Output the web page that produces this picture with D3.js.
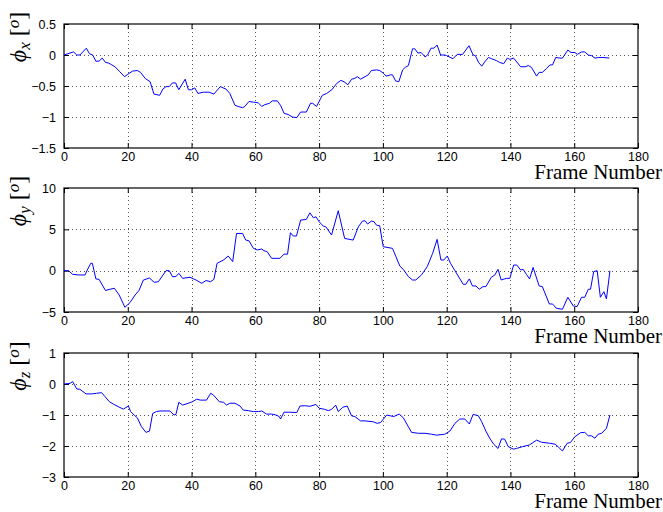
<!DOCTYPE html>
<html>
<head>
<meta charset="utf-8">
<script src="https://cdn.jsdelivr.net/npm/d3@7"></script>
<style>
  body { margin: 0; background: #fff; }
  .tick text { font-family: "Liberation Sans", Arial, sans-serif; font-size: 12.5px; }
</style>
</head>
<body>
<div class="angle_chart"></div>
<script>
// frame axis
const frameTicks = [0, 20, 40, 60, 80, 100, 120, 140, 160, 180];

// phi_x
const phiXTicks = [0.5, 0, -0.5, -1, -1.5];
const phiXFrames = [0, 3, 4, 5, 7, 8, 9, 10, 11, 12, 13, 14, 15, 16, 17.5, 19, 20, 21.5, 23, 24, 25.5, 27, 28.2, 30, 31, 32, 33, 34, 35, 36, 38, 39, 40, 41, 42, 43.7, 45.5, 47, 49, 50.8, 52, 53.6, 54.6, 56, 56.7, 58, 59.4, 60.9, 62, 63, 64.4, 65.3, 66.9, 68, 69, 70.3, 71.6, 73, 74.2, 76, 77.3, 78, 79.2, 81, 82.4, 84, 85.5, 86.8, 87.8, 89, 90.2, 91, 92, 93, 94.4, 95.4, 96.4, 98, 99, 100.3, 101, 102.4, 103, 104, 105, 106.2, 107, 108, 109.3, 110, 111, 112, 113.2, 114, 115.1, 116, 117, 118.1, 119.4, 120, 122, 123.3, 125, 127, 128.3, 129, 130, 131, 132.1, 133.1, 134.1, 135.6, 136.6, 137.9, 139, 139.8, 141, 143.2, 144.6, 145.6, 146.6, 148.2, 149, 150, 151.3, 152.4, 153.2, 154.2, 155.5, 156.3, 158, 159, 160.2, 161, 162.3, 163.3, 164.4, 165.4, 166.5, 167.7, 169, 171];
const phiXValues = [0, 0.05, 0, 0, 0.11, 0.02, 0, -0.1, -0.1, -0.05, -0.12, -0.13, -0.16, -0.19, -0.27, -0.35, -0.31, -0.26, -0.25, -0.28, -0.38, -0.43, -0.63, -0.65, -0.55, -0.51, -0.51, -0.45, -0.45, -0.56, -0.39, -0.56, -0.56, -0.53, -0.62, -0.6, -0.6, -0.63, -0.51, -0.55, -0.62, -0.81, -0.83, -0.85, -0.83, -0.75, -0.76, -0.77, -0.83, -0.8, -0.78, -0.74, -0.74, -0.82, -0.94, -0.96, -1.0, -1.01, -0.92, -0.92, -0.78, -0.78, -0.83, -0.65, -0.62, -0.56, -0.46, -0.41, -0.43, -0.48, -0.39, -0.38, -0.35, -0.39, -0.35, -0.32, -0.25, -0.24, -0.25, -0.3, -0.34, -0.32, -0.32, -0.42, -0.43, -0.24, -0.2, -0.17, 0.1, 0.1, 0.03, 0.04, -0.03, 0, 0.11, 0.11, 0.16, 0, 0, -0.01, -0.06, 0.01, 0.01, 0.15, 0, -0.01, -0.12, -0.18, -0.1, -0.04, -0.06, -0.09, -0.12, -0.14, -0.05, -0.07, -0.05, -0.19, -0.19, -0.17, -0.2, -0.34, -0.28, -0.28, -0.22, -0.16, -0.16, -0.04, -0.05, -0.05, 0.08, 0.04, 0.04, 0.01, 0.05, 0.05, 0, -0.01, -0.05, -0.04, -0.04, -0.05];

// phi_y
const phiYTicks = [10, 5, 0, -5];
const phiYFrames = [0, 1.4, 2.7, 4.5, 6.6, 7.3, 8.4, 8.9, 10, 11, 13, 14.4, 15.8, 17.3, 19.1, 20.7, 22.3, 23.5, 24.9, 26.8, 28.3, 29.6, 32, 33, 34, 35.1, 36, 37.2, 39.5, 41.4, 43.2, 44.5, 46, 47, 48, 50, 51.5, 52.9, 54.1, 56, 57, 58, 59.4, 60.6, 62, 62.7, 63.7, 65.1, 67.7, 69, 70.1, 71, 71.9, 72.9, 74.2, 76, 77.1, 78.2, 79, 80, 81.3, 82.1, 83.9, 86, 88, 90.7, 92.3, 93.6, 94.4, 95.2, 96.4, 97.2, 98, 99, 100.1, 103, 104.1, 105.3, 106.4, 108, 109.3, 110.3, 112.1, 113.9, 115.6, 117, 118.2, 119.1, 120.2, 121.2, 122.6, 123.6, 125.2, 126, 127.1, 128.1, 129.2, 130.2, 131.4, 132.3, 134, 135.1, 136.1, 137.1, 138.7, 139.8, 141, 142, 143.2, 144, 145, 146, 147.1, 149, 150, 152.2, 153.2, 154.4, 156.3, 158, 159.7, 160.9, 162.3, 163.3, 164.4, 165.1, 166.1, 167.2, 168.2, 169.3, 170.1, 171.2];
const phiYValues = [0, 0, -0.44, -0.52, -0.52, 0.08, 0.89, 0.89, -1.0, -1.05, -2.4, -2.25, -2.13, -2.94, -4.43, -3.86, -2.94, -2.4, -1.13, -0.89, -1.41, -1.33, 0, 0, -0.72, -0.72, -0.32, -0.93, -0.8, -1.13, -1.53, -1.2, -1.33, -1.05, 0.89, 1.29, 1.77, 1.09, 4.5, 4.5, 3.7, 3.62, 2.7, 2.5, 2.62, 2.42, 2.3, 1.49, 1.49, 2.0, 2.0, 4.59, 4.19, 4.19, 6.12, 6.2, 7.0, 6.4, 6.52, 5.92, 5.39, 5.31, 4.31, 7.25, 3.9, 3.7, 5.3, 6.0, 6.04, 5.64, 6.0, 5.92, 5.5, 5.43, 2.9, 2.7, 1.69, 0.56, 0.16, -0.72, -1.13, -1.13, -0.52, 0.48, 2.09, 3.78, 1.29, 1.29, 1.77, 0.89, 0, -0.64, -1.65, -1.65, -1.0, -1.85, -1.85, -2.25, -1.93, -1.93, -0.8, -0.52, 0.16, -1.13, -0.93, -0.93, 0.68, 0.68, 0.08, 0.16, -0.44, -1.0, 0.4, -1.85, -1.93, -4.03, -4.03, -4.55, -4.67, -3.22, -4.27, -4.35, -3.22, -3.22, -2.25, -2.25, -0.12, 0, -3.22, -2.54, -3.42, 0];

// phi_z
const phiZTicks = [1, 0, -1, -2, -3];
const phiZFrames = [0, 1.9, 2.7, 4, 5, 6.9, 8.7, 10.2, 11.8, 12.9, 14.2, 15.5, 17, 18.6, 20.2, 20.9, 22, 23, 24.3, 25.7, 26.8, 27.8, 29, 30.1, 32, 33.2, 34.5, 35.1, 36, 37.2, 39, 40.3, 41.6, 42.8, 44.7, 46, 46.8, 48.7, 50, 51, 52, 53.6, 55.2, 56.2, 57.8, 59.4, 61, 62, 63.5, 65.1, 66.5, 67.5, 67.9, 69, 70.9, 73, 74, 75.5, 77.1, 79, 80, 81.8, 82.9, 83.9, 85.2, 86, 87.4, 88.8, 90.2, 91.2, 93, 94.4, 97, 98.2, 99.3, 101.2, 103.4, 105.1, 106.4, 108, 109, 111.1, 113.2, 115.3, 116.8, 119.4, 121, 122.6, 124.1, 125.7, 127.1, 128.3, 129.9, 131, 132.3, 133.5, 134.8, 136.1, 137.2, 138.2, 139.3, 140.9, 141.9, 143.8, 145.9, 148.2, 149.8, 152.2, 154, 155.2, 156.3, 157.8, 158.8, 160.2, 162, 163.3, 164.4, 165.4, 166.5, 167.5, 168.6, 170.1, 171.2];
const phiZValues = [0, 0.02, 0.08, -0.16, -0.17, -0.32, -0.32, -0.3, -0.28, -0.41, -0.57, -0.65, -0.73, -0.81, -0.71, -0.89, -1.0, -1.09, -1.38, -1.56, -1.52, -0.95, -0.89, -0.87, -0.87, -0.87, -1.0, -0.98, -0.59, -0.68, -0.62, -0.57, -0.49, -0.52, -0.52, -0.3, -0.35, -0.57, -0.59, -0.68, -0.62, -0.62, -0.71, -0.84, -0.86, -0.89, -0.89, -0.87, -0.97, -0.97, -1.0, -1.05, -1.13, -0.91, -0.91, -0.92, -0.71, -0.7, -0.72, -0.66, -0.78, -0.82, -0.86, -0.82, -0.68, -0.89, -0.75, -0.71, -1.03, -1.05, -1.19, -1.19, -1.22, -1.27, -1.24, -1.0, -1.05, -0.97, -1.09, -1.38, -1.56, -1.59, -1.59, -1.62, -1.65, -1.62, -1.52, -1.27, -1.13, -1.13, -1.29, -0.98, -1.02, -1.22, -1.52, -1.75, -1.95, -2.08, -1.77, -1.78, -2.02, -2.1, -2.08, -2.02, -1.97, -1.81, -1.88, -1.91, -1.94, -2.05, -2.16, -1.91, -1.89, -1.7, -1.57, -1.56, -1.67, -1.67, -1.75, -1.62, -1.59, -1.43, -1.0];

const width = 663, height = 512;
const plotLeft = 64, plotRight = 638, plotH = 124;

const svg = d3.select(".angle_chart")
  .append("svg")
  .attr("width", width)
  .attr("height", height);

const x = d3.scaleLinear().domain([0, 180]).range([plotLeft, plotRight]);

const fmt = (d) => String(d).replace("-", "\u2212");

function drawPanel(top, ticks, frames, values, sub) {
  const y = d3.scaleLinear()
    .domain([d3.min(ticks), d3.max(ticks)])
    .range([top + plotH, top]);

  const g = svg.append("g");

  // dotted grid
  g.selectAll(".vgrid")
    .data(frameTicks.slice(1, -1))
    .join("line")
    .attr("x1", (d) => Math.round(x(d)) + 0.5).attr("x2", (d) => Math.round(x(d)) + 0.5)
    .attr("y1", top).attr("y2", top + plotH)
    .attr("stroke", "#555")
    .attr("stroke-width", 1)
    .attr("stroke-dasharray", "1,3");
  g.selectAll(".hgrid")
    .data(ticks.slice(1, -1))
    .join("line")
    .attr("x1", plotLeft).attr("x2", plotRight)
    .attr("y1", (d) => Math.round(y(d)) + 0.5).attr("y2", (d) => Math.round(y(d)) + 0.5)
    .attr("stroke", "#555")
    .attr("stroke-width", 1)
    .attr("stroke-dasharray", "1,3");

  // axes, ticks pointing in
  g.append("g")
    .attr("transform", "translate(0," + (top + plotH) + ")")
    .call(d3.axisBottom(x).tickValues(frameTicks).tickSize(-5).tickPadding(4).tickFormat(fmt))
    .call((a) => a.select(".domain").remove());
  g.append("g")
    .attr("transform", "translate(0," + top + ")")
    .call(d3.axisTop(x).tickValues(frameTicks).tickSize(-5).tickFormat(""))
    .call((a) => a.select(".domain").remove());
  g.append("g")
    .attr("transform", "translate(" + plotLeft + ",0)")
    .call(d3.axisLeft(y).tickValues(ticks).tickSize(-5).tickPadding(8).tickFormat(fmt))
    .call((a) => a.select(".domain").remove());
  g.append("g")
    .attr("transform", "translate(" + plotRight + ",0)")
    .call(d3.axisRight(y).tickValues(ticks).tickSize(-5).tickFormat(""))
    .call((a) => a.select(".domain").remove());

  g.selectAll(".tick text").attr("fill", "#000");
  g.selectAll(".tick line").attr("stroke", "#000");

  g.append("rect")
    .attr("x", plotLeft).attr("y", top)
    .attr("width", plotRight - plotLeft).attr("height", plotH)
    .attr("fill", "none")
    .attr("stroke", "#000")
    .attr("stroke-width", 1.2);

  // the angle trace
  const line = d3.line()
    .x((d) => x(d[0]))
    .y((d) => y(d[1]));
  g.append("path")
    .datum(d3.zip(frames, values))
    .attr("d", line)
    .attr("fill", "none")
    .attr("stroke", "#0000ff")
    .attr("stroke-width", 1);

  // x label
  g.append("text")
    .attr("x", 662)
    .attr("y", top + plotH + 31)
    .attr("text-anchor", "end")
    .attr("font-family", "'Liberation Serif', 'Times New Roman', serif")
    .attr("font-size", "21px")
    .text("Frame Number");

  // y label  phi_sub [o]
  const yl = g.append("text")
    .attr("transform", "translate(26," + (top + 13) + ") rotate(-90)")
    .attr("text-anchor", "middle")
    .attr("font-family", "'Liberation Serif', 'Times New Roman', serif")
    .attr("font-size", "24px");
  yl.append("tspan").attr("font-style", "italic").text("\u03d5");
  yl.append("tspan").attr("font-style", "italic").attr("font-size", "17px").attr("dy", 4).text(sub);
  yl.append("tspan").attr("dy", -4).text(" [");
  yl.append("tspan").attr("font-style", "italic").attr("font-size", "17px").attr("dy", -7).text("o");
  yl.append("tspan").attr("dy", 7).text("]");
}

drawPanel(24, phiXTicks, phiXFrames, phiXValues, "x");
drawPanel(188, phiYTicks, phiYFrames, phiYValues, "y");
drawPanel(353, phiZTicks, phiZFrames, phiZValues, "z");
</script>
</body>
</html>
